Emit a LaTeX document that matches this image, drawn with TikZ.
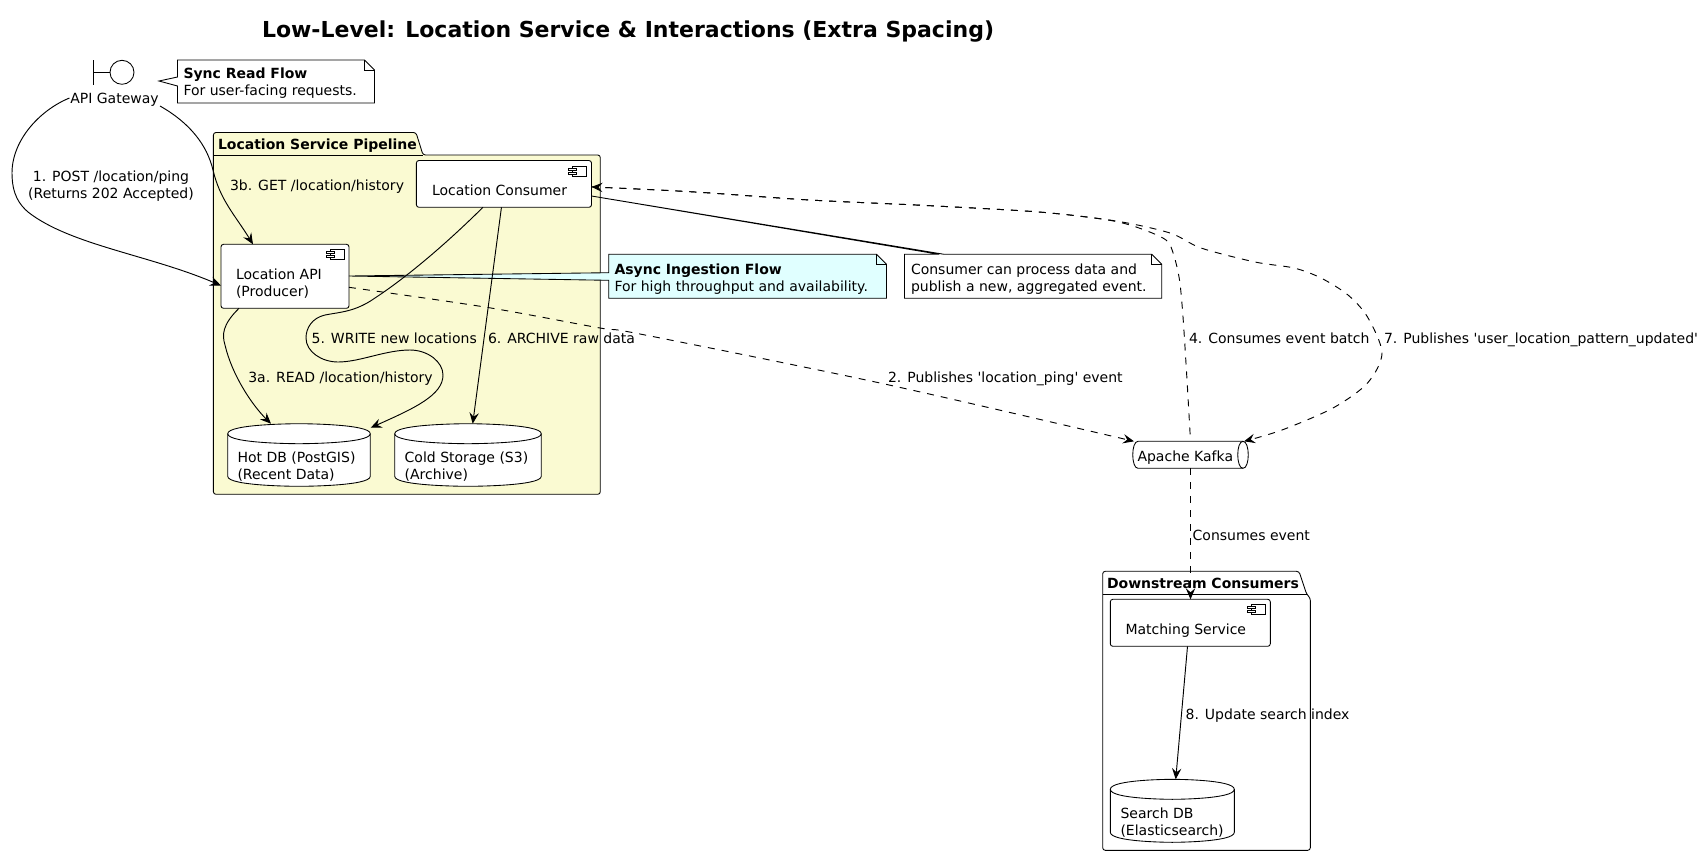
\documentclass[tikz,border=0pt]{standalone}
\usepackage{fontspec}
\setmainfont{DejaVu Sans}
\usetikzlibrary{arrows.meta}
\def\pxu{0.75pt}
\definecolor{pkgfill}{HTML}{FAFAD2}
\definecolor{asyncfill}{HTML}{E0FFFF}
\tikzset{
  outl/.style={draw=black,line width=0.65pt},
  compbox/.style={outl,fill=white,rectangle,rounded corners=1.9pt,inner sep=0pt,outer sep=0pt},
  shapebox/.style={rectangle,inner sep=0pt,outer sep=0pt},
  txt/.style={inner sep=0pt,outer sep=0pt,align=left,anchor=west,yshift=-1.5pt,font=\fontsize{10.5pt}{12.75pt}\selectfont},
  ctxt/.style={txt,align=center,anchor=center},
  bold/.style={font=\fontsize{10.5pt}{12.75pt}\selectfont\bfseries},
  arr/.style={draw=black,line width=0.7pt,-{Stealth[length=8.25pt,width=7pt,inset=3pt]}},
  darr/.style={arr,dash pattern=on 5.25pt off 5.25pt},
  darrback/.style={draw=black,line width=0.7pt,{Stealth[length=8.25pt,width=7pt,inset=3pt]}-,dash pattern=on 5.25pt off 5.25pt,dash phase=5pt},
}
\newcommand\compbx[6]{% name x1 y1 x2 y2
  \node[compbox,minimum width={(#4-#2)*\pxu},minimum height={(#5-#3)*\pxu}] (#1) at ({(#2+#4)/2},{(#3+#5)/2}) {};
  \draw[outl,fill=white] ({#4-19},{#3+5.5}) rectangle ({#4-5},{#3+15.5});
  \draw[outl,fill=white] ({#4-23},{#3+7.5}) rectangle ({#4-15},{#3+9.5});
  \draw[outl,fill=white] ({#4-23},{#3+11.5}) rectangle ({#4-15},{#3+13.5});
  #6
}
\newcommand\dbshape[5]{% name x1 y1 x2 y2
  \draw[outl,fill=white] (#2,{#3+10}) .. controls (#2,#3) and ({(#2+#4)/2},#3) .. ({(#2+#4)/2},#3)
     .. controls ({(#2+#4)/2},#3) and (#4,#3) .. (#4,{#3+10})
     -- (#4,{#5-10}) .. controls (#4,#5) and ({(#2+#4)/2},#5) .. ({(#2+#4)/2},#5)
     .. controls ({(#2+#4)/2},#5) and (#2,#5) .. (#2,{#5-10}) -- cycle;
  \draw[outl] (#2,{#3+10}) .. controls (#2,{#3+20}) and ({(#2+#4)/2},{#3+20}) .. ({(#2+#4)/2},{#3+20})
     .. controls ({(#2+#4)/2},{#3+20}) and (#4,{#3+20}) .. (#4,{#3+10});
  \node[shapebox,minimum width={(#4-#2)*\pxu},minimum height={(#5-#3)*\pxu}] (#1) at ({(#2+#4)/2},{(#3+#5)/2}) {};
}
\begin{document}
\begin{tikzpicture}[x=0.75pt,y=-0.75pt]
\useasboundingbox (0,0) rectangle (1708,858);
\node[inner sep=0pt,outer sep=0pt,anchor=west,font=\fontsize{16.5pt}{20pt}\selectfont\bfseries] (title) at (262,32) {\strut Low-Level: Location Service \& Interactions (Extra Spacing)};

% packages
\draw[outl,fill=pkgfill,rounded corners=1.9pt] (213.4,155) -- (213.4,132.5) -- (416,132.5) -- (423,155) -- (600.3,155) -- (600.3,494.3) -- (213.4,494.3) -- cycle;
\draw[outl] (213.4,155) -- (423,155);
\node[txt,bold] (pkg1) at (218,144) {\strut Location Service Pipeline};
\draw[outl,fill=white,rounded corners=1.9pt] (1102.7,594.3) -- (1102.7,571.3) -- (1299,571.3) -- (1306.7,594.3) -- (1310.3,598) -- (1310.3,850.3) -- (1102.7,850.3) -- cycle;
\draw[outl] (1102.7,594.3) -- (1306.7,594.3);
\node[txt,bold] (pkg2) at (1107,583) {\strut Downstream Consumers};

% boundary actor
\draw[outl] (93.3,60) -- (93.3,84.5);
\draw[outl] (93.3,72.3) -- (110,72.3);
\node[circle,outl,fill=white,minimum size=18pt,inner sep=0pt,outer sep=0pt] (gwicon) at (122,72.3) {};
\node[ctxt] (gw) at (114.5,98) {\strut API Gateway};

% components
\compbx{cons}{416.4}{160.5}{591.5}{207.3}{\node[txt] (const) at (432,190) {\strut Location Consumer};}
\compbx{locapi}{221}{244.3}{349}{308.3}{\node[txt] (locapit) at (236,282.5) {\strut Location API\\\strut (Producer)};}
\compbx{match}{1110.3}{599.3}{1270.3}{646.3}{\node[txt] (matcht) at (1125.5,629) {\strut Matching Service};}

% databases
\dbshape{hot}{227.7}{423.7}{370.3}{486.3}
\node[txt] (hott) at (237.5,465.5) {\strut Hot DB (PostGIS)\\\strut (Recent Data)};
\dbshape{cold}{394.7}{423.7}{541.3}{486.3}
\node[txt] (coldt) at (404.7,465.5) {\strut Cold Storage (S3)\\\strut (Archive)};
\dbshape{search}{1110.3}{779.3}{1234.3}{842.3}
\node[txt] (searcht) at (1120.5,821.5) {\strut Search DB\\\strut (Elasticsearch)};

% queue
\draw[outl,fill=white] (1138,441.3) -- (1243,441.3) .. controls (1250,441.3) and (1250,468.3) .. (1243,468.3) -- (1138,468.3) .. controls (1131,468.3) and (1131,441.3) .. (1138,441.3) -- cycle;
\draw[outl] (1243,441.3) .. controls (1236,441.3) and (1236,468.3) .. (1243,468.3);
\node[shapebox,minimum width={115*\pxu},minimum height={27*\pxu}] (kafka) at (1190.5,454.8) {};
\node[txt] (kafkat) at (1137.5,456) {\strut Apache Kafka};

% notes
\draw[outl,fill=white] (177.5,60) -- (364.5,60) -- (374.5,70) -- (374.5,103) -- (177.5,103) -- (177.5,86) -- (159,81) -- (177.5,77) -- cycle;
\draw[outl] (364.5,60) -- (364.5,70) -- (374.5,70);
\node[txt] (n1) at (183.5,81.5) {\strut\textbf{Sync Read Flow}\\\strut For user-facing requests.};

\draw[outl,fill=asyncfill] (608.7,254.3) -- (876.5,254.3) -- (886.5,264.3) -- (886.5,298.3) -- (608.7,298.3) -- (608.7,280.3) -- (349,276) -- (608.7,272.7) -- cycle;
\draw[outl] (876.5,254.3) -- (876.5,264.3) -- (886.5,264.3);
\node[txt] (n2) at (614.5,277.5) {\strut\textbf{Async Ingestion Flow}\\\strut For high throughput and availability.};

\draw[outl,fill=white] (904.5,254.3) -- (939,254.3) -- (591.5,196) -- (944,254.3) -- (1151.7,254.3) -- (1161.7,264.3) -- (1161.7,298.3) -- (904.5,298.3) -- cycle;
\draw[outl] (1151.7,254.3) -- (1151.7,264.3) -- (1161.7,264.3);
\node[txt] (n3) at (911,277.5) {\strut Consumer can process data and\\\strut publish a new, aggregated event.};

% connectors
\draw[arr] ([xshift=-45*\pxu,yshift=2*\pxu]gw.center) .. controls (40,110) and (12,140) .. (12,173) .. controls (12,195) and (20,205) .. (28,212) .. controls (70,245) and (150,255) .. ([yshift=-9.3*\pxu]locapi.west);
\draw[arr] ([xshift=45.5*\pxu,yshift=-6*\pxu]gw.center) .. controls (190,123) and (207,145) .. (213,170) .. controls (220,200) and (235,215) .. ([xshift=-32*\pxu]locapi.north);
\draw[darr] plot[smooth,tension=0.5] coordinates {([yshift=-11*\pxu]locapi.east) (486.7,307.3) (600,328) (640,334) (880,383) ([xshift=-56.5*\pxu]kafka.north)};
\draw[arr] ([xshift=18*\pxu]locapi.south west) .. controls (222,325) and (222,335) .. (225,345) .. controls (232,375) and (252,405) .. ([xshift=-28*\pxu]hot.north);
\draw[darrback] plot[smooth,tension=0.5] coordinates {([yshift=-3*\pxu]cons.east) (695,192) (809.6,200) (926,205.5) (1039,212) (1108,220) (1139,228) (1166,240) (1173.7,255) (1179.5,280) (1183,317) (1187,380) (kafka.north)};
\draw[arr] ([xshift=-21*\pxu]cons.south) .. controls (450,240) and (410,275) .. (375,298) .. controls (355,312) and (340,312) .. (325,315) .. controls (312,318) and (306,328) .. (306,338) .. controls (306,352) and (322,362) .. (338,362) .. controls (360,362) and (385,350) .. (410,350) .. controls (428,350) and (443,362) .. (443,375) .. controls (443,395) and (415,408) .. ([xshift=71.7*\pxu,yshift=-4*\pxu]hot.north);
\draw[arr] ([xshift=-2.5*\pxu]cons.south) -- ([xshift=4.7*\pxu]cold.north);
\draw[darr] plot[smooth,tension=0.5] coordinates {([yshift=-3*\pxu]cons.east) (695,192) (809.6,200) (926,205.5) (1039,212) (1116,221) (1170,233) (1201,248) (1255,262) (1294,268) (1321,278) (1348,295) (1367.5,317) (1382,353) (1367.5,383) (1333,408) (1282,430) ([xshift=53.5*\pxu]kafka.north)};
\draw[darr] (kafka.south) -- (match.north -| kafka.south);
\draw[arr] ([xshift=-2.8*\pxu]match.south) -- ([xshift=3.4*\pxu]search.north);

% labels
\node[ctxt] (l1) at (111,184.5) {\strut 1. POST /location/ping\\\strut (Returns 202 Accepted)};
\node[txt] (l3b) at (230,185) {\strut 3b. GET /location/history};
\node[txt] (l3a) at (248.3,376.7) {\strut 3a. READ /location/history};
\node[txt] (l5) at (311.7,337.7) {\strut 5. WRITE new locations};
\node[txt] (l6) at (488,337.7) {\strut 6. ARCHIVE raw data};
\node[txt] (l2) at (888,377) {\strut 2. Publishes \textquotesingle location\_ping\textquotesingle{} event};
\node[txt] (l4) at (1189,338) {\strut 4. Consumes event batch};
\node[txt] (l7) at (1384,338) {\strut 7. Publishes \textquotesingle user\_location\_pattern\_updated\textquotesingle};
\node[txt] (lc) at (1192.7,535) {\strut Consumes event};
\node[txt] (l8) at (1185.7,714) {\strut 8. Update search index};
\end{tikzpicture}
\end{document}
